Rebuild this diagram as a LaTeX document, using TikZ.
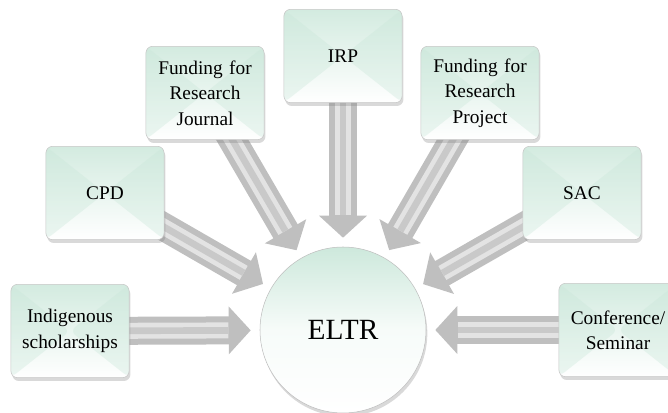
\documentclass[tikz,border=0pt]{standalone}
\usepackage{fontspec}
\setmainfont{Liberation Serif}
\usetikzlibrary{arrows.meta}
\usetikzlibrary{shadows}
\usetikzlibrary{backgrounds}
\definecolor{mint}{RGB}{200,230,216}

\tikzset{
  topic/.style={draw=gray!45, rounded corners=5pt, minimum width=87pt, minimum height=70pt,
    text width=82pt, align=center, font=\fontsize{14.5}{19}\selectfont,
    top color=mint!80, bottom color=white,
    drop shadow={shadow xshift=1pt, shadow yshift=-2.5pt, opacity=0.3, fill=gray},
    path picture={
      \fill[mint, opacity=0.35] (path picture bounding box.north west) -- (path picture bounding box.center)
        -- (path picture bounding box.south west) -- cycle;
      \fill[mint, opacity=0.35] (path picture bounding box.north east) -- (path picture bounding box.center)
        -- (path picture bounding box.south east) -- cycle;}},
  hub/.style={circle, draw=gray!50, minimum size=124.5pt, font=\fontsize{22}{26}\selectfont,
    top color=mint!90, bottom color=white, middle color=mint!15,
    drop shadow={shadow xshift=1pt, shadow yshift=-2.5pt, opacity=0.3, fill=gray}},
  fatarrow/.style={line width=21pt, draw=gray!50, shorten >=6.75pt,
    -{Triangle[length=16.5pt, width=35pt]}},
  arrowlight/.style={line width=12pt, draw=gray!22, shorten >=23.5pt},
  arrowcore/.style={line width=5pt, draw=gray!42, shorten >=23.5pt}
}

\begin{document}
\begin{tikzpicture}[x=0.75pt, y=-0.75pt]
  \useasboundingbox (0,0) rectangle (668,413);

  % centre and surrounding topics
  \node[hub] (eltr) at (343,330) {ELTR};
  \node[topic] (ind) at (70,331) {Indigenous scholarships};
  \node[topic] (cpd) at (105,193) {CPD};
  \node[topic] (journal) at (205,93) {Funding for Research Journal};
  \node[topic] (irp) at (343,56) {IRP};
  \node[topic] (project) at (480,93) {Funding for Research Project};
  \node[topic] (sac) at (582,193) {SAC};
  \node[topic] (conf) at (618,330) {Conference/ Seminar};

  % block arrows into the centre
  \begin{scope}[on background layer]
    \foreach \src in {ind,cpd,journal,irp,project,sac,conf} {
      \draw[fatarrow] (\src.center) -- (eltr);
      \draw[arrowlight] (\src.center) -- (eltr);
      \draw[arrowcore] (\src.center) -- (eltr);
    }
  \end{scope}
\end{tikzpicture}
\end{document}
